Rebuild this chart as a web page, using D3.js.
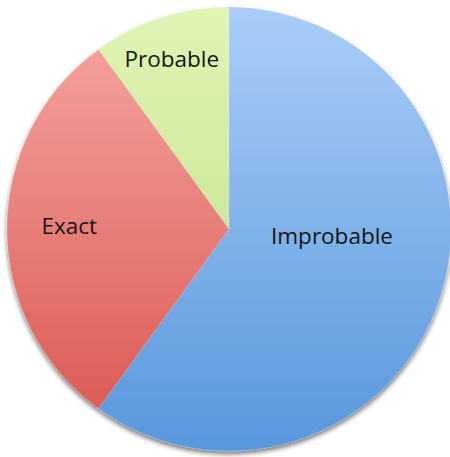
<!DOCTYPE html>
<html>
<head>
<meta charset="utf-8">
<script src="https://cdn.jsdelivr.net/npm/d3@7"></script>
<style>
  html, body { margin: 0; padding: 0; background: #ffffff; }
  svg { display: block; }
</style>
</head>
<body>
<svg id="chart" width="450" height="457"></svg>
<script>
const categories = ["Improbable", "Exact", "Probable"];
const values = [60, 30, 10];
const colorsTop = ["#aacdf8", "#f6a7a4", "#e0f4b4"];
const colorsBottom = ["#5797dc", "#d9544d", "#bcdb80"];

const W = 450, H = 457;
const cx = 229, cy = 229, R = 222;

const svg = d3.select("#chart");
const defs = svg.append("defs");

const shadow = defs.append("filter").attr("id", "shadow")
  .attr("x", "-10%").attr("y", "-10%").attr("width", "120%").attr("height", "120%");
shadow.append("feGaussianBlur").attr("in", "SourceAlpha").attr("stdDeviation", 2.5).attr("result", "b");
shadow.append("feOffset").attr("in", "b").attr("dx", 0).attr("dy", 3).attr("result", "o");
shadow.append("feComponentTransfer").attr("in", "o").attr("result", "s")
  .append("feFuncA").attr("type", "linear").attr("slope", 0.55);
const merge = shadow.append("feMerge");
merge.append("feMergeNode").attr("in", "s");
merge.append("feMergeNode").attr("in", "SourceGraphic");

categories.forEach((c, i) => {
  const g = defs.append("linearGradient").attr("id", "grad" + i)
    .attr("gradientUnits", "userSpaceOnUse")
    .attr("x1", 0).attr("y1", -R).attr("x2", 0).attr("y2", R);
  g.append("stop").attr("offset", "0%").attr("stop-color", colorsTop[i]);
  g.append("stop").attr("offset", "100%").attr("stop-color", colorsBottom[i]);
});

const data = categories.map((c, i) => ({ name: c, value: values[i], i }));
const pie = d3.pie().value(d => d.value).sort(null);
const arcs = pie(data);
const arc = d3.arc().innerRadius(0).outerRadius(R);

const g = svg.append("g").attr("transform", `translate(${cx},${cy})`);
const slices = g.append("g").attr("filter", "url(#shadow)");
slices.selectAll("path").data(arcs).join("path")
  .attr("d", arc)
  .attr("fill", d => `url(#grad${d.data.i})`)
  .attr("stroke", "rgba(255,255,255,0.25)")
  .attr("stroke-width", 0.6);

// label placement: radius fraction and angular nudge per slice (layout, not data)
const labelLayout = [
  { rf: 0.465, da: -0.245 },
  { rf: 0.72, da: 0.02 },
  { rf: 0.81, da: -0.01 }
];
g.selectAll("text").data(arcs).join("text")
  .attr("transform", d => {
    const L = labelLayout[d.data.i];
    const a = (d.startAngle + d.endAngle) / 2 + L.da;
    const r = R * L.rf;
    return `translate(${r * Math.sin(a)},${-r * Math.cos(a)})`;
  })
  .attr("text-anchor", "middle")
  .attr("dy", "0.36em")
  .attr("font-family", "'Open Sans', Lato, sans-serif")
  .attr("font-size", 22.5)
  .attr("fill", "#151515")
  .text(d => d.data.name);
</script>
</body>
</html>
